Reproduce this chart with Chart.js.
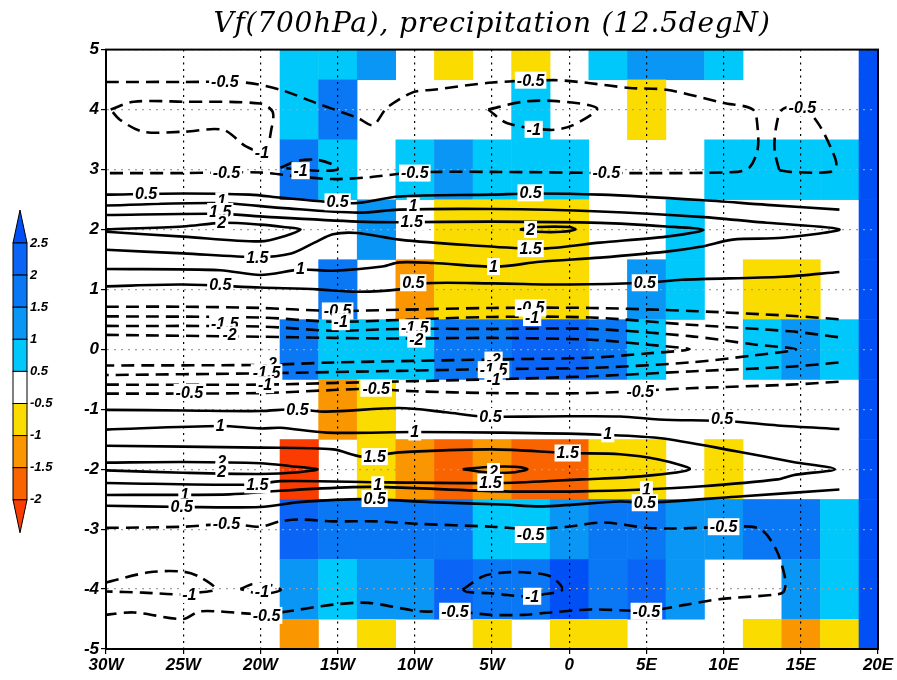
<!DOCTYPE html>
<html lang="en">
<head>
    <meta charset="UTF-8">
    <title>Vf(700hPa), precipitation (12.5degN)</title>
    <script src="https://cdn.jsdelivr.net/npm/chart.js"></script>
    <style>
        body { margin: 0; background: #fff; }
        canvas { display: block; }
    </style>
</head>
<body>
    <canvas id="vfChart" width="897" height="680"></canvas>

    <script>
        const chartTitle = "Vf(700hPa), precipitation (12.5degN)";

        // shaded field: one value per 2.5deg x 1 cell
        const lons = [-30, -27.5, -25, -22.5, -20, -17.5, -15, -12.5, -10, -7.5, -5, -2.5, 0, 2.5, 5, 7.5, 10, 12.5, 15, 17.5, 20];
        const lats = [5, 4, 3, 2, 1, 0, -1, -2, -3, -4, -5];
        const precip = [
            [0, 0, 0, 0, 0, 0.7, 0.7, 1.2, 0, -0.7, 0, -0.7, 0, 0.7, 1.2, 1.2, 0.7, 0, 0, 0, 2.7],
            [0, 0, 0, 0, 0, 0.7, 1.7, 0, 0, 0, 0, 0.7, 0, 0, -0.7, 0, 0, 0, 0, 0, 2.7],
            [0, 0, 0, 0, 0, 1.7, 0.7, 0, 0.7, 1.2, 0.7, 0.7, 0.7, 0, 0, 0, 0.7, 0.7, 0.7, 0.7, 2.7],
            [0, 0, 0, 0, 0, 0, 0, 1.2, 0, -0.7, -0.7, -0.7, -0.7, 0, 0, 0.7, 0, 0, 0, 0, 2.7],
            [0, 0, 0, 0, 0, 0, 1.7, 0, -1.2, -0.7, -0.7, -0.7, -0.7, 0, 1.2, 0.7, 0, -0.7, -0.7, 0, 2.7],
            [0, 0, 0, 0, 0, 1.7, 0.7, 0.7, 0.7, 1.7, 1.7, 2.2, 2.2, 1.7, 0.7, 0, 0, 0.7, 1.2, 0.7, 2.7],
            [0, 0, 0, 0, 0, 0, -1.2, -0.7, 0, 0, 0, 0, 0, 0, 0, 0, 0, 0, 0, 0, 2.7],
            [0, 0, 0, 0, 0, -2.2, 0, -0.7, -1.2, -1.7, -1.2, -1.7, -1.7, -0.7, -0.7, 0, -0.7, 0, 0, 0, 2.7],
            [0, 0, 0, 0, 0, 2.2, 1.7, 1.7, 1.7, 1.7, 0.7, 0.7, 1.2, 1.7, 1.7, 1.2, 1.2, 1.7, 1.7, 0.7, 2.7],
            [0, 0, 0, 0, 0, 1.2, 0.7, 1.2, 1.2, 2.2, 1.7, 1.7, 2.7, 1.7, 2.2, 1.2, 0, 0, 1.2, 0.7, 2.7],
            [0, 0, 0, 0, 0, -1.2, 0, -0.7, 0, 0, -0.7, 0, -0.7, -0.7, 0, 0, 0, -0.7, -1.2, -0.7, 2.7]
        ];
        const levels = [-2, -1.5, -1, -0.5, 0.5, 1, 1.5, 2, 2.5];
        const shadeColors = ["#fa3c00", "#fa6400", "#fa9600", "#fadc00", null, "#00c8fa", "#0a96f5", "#0a78f5", "#0a64f5", "#0050f5"];

        // contour lines of Vf: [level, [[lon, lat], ...]]
        const topLines = [
            [-0.5, [[-30, 4.46], [-25, 4.46], [-21, 4.45], [-18.7, 4.33], [-16.3, 4.1], [-13.7, 3.86], [-12.7, 3.74], [-11.8, 4.03], [-10.1, 4.29], [-8.8, 4.33], [-5, 4.45], [-1, 4.49], [1, 4.45], [3.9, 4.36], [6.3, 4.33], [10, 4.11], [11.9, 4.0], [12.2, 3.7], [12.2, 3.33], [11.7, 3.04], [10.9, 2.96], [3.7, 2.94], [-5, 2.96], [-10, 2.95], [-13, 2.87], [-15.3, 2.84], [-17.5, 2.88], [-20, 2.95], [-25, 2.94], [-30, 2.94]]],
            [-1, [[-29.7, 4.0], [-28.2, 4.13], [-25, 4.13], [-20, 4.1], [-19.2, 3.96], [-19.3, 3.66], [-19.7, 3.3], [-20.9, 3.38], [-22.4, 3.66], [-25, 3.63], [-27.6, 3.63], [-29.1, 3.83], [-29.7, 4.0]]],
            [-1, [[-18.7, 3.03], [-17.5, 3.15], [-16.3, 3.16], [-15.3, 3.08], [-15.0, 3.0], [-16.3, 2.98], [-18.7, 3.03]]],
            [-1, [[-5.25, 4.0], [-3.0, 4.13], [-0.8, 4.14], [1.8, 4.02], [0.25, 3.74], [-1.2, 3.66], [-4.0, 3.77], [-5.25, 4.0]]],
            [-0.5, [[13.6, 2.99], [13.3, 3.33], [13.4, 3.71], [13.8, 4.0], [15.1, 4.05], [16.2, 3.74], [17.1, 3.27], [17.3, 3.08], [16.9, 2.96], [14.3, 2.96], [13.6, 2.99]]]
        ];
        const upperRidge = [
            [0.5, [[-30, 2.58], [-25, 2.6], [-20.7, 2.58], [-18.7, 2.53], [-15.7, 2.46], [-13.7, 2.44], [-11, 2.55], [-5, 2.58], [-2.5, 2.6], [2, 2.58], [8.5, 2.49], [12.8, 2.41], [17.5, 2.33]]],
            [0.5, [[-30, 1.05], [-25, 1.08], [-20, 1.03], [-16.3, 1.0], [-13.7, 0.96], [-11, 1.0], [-9.5, 1.1], [-5, 1.1], [0, 1.08], [5, 1.11], [7.3, 1.16], [13.8, 1.21], [17.5, 1.29]]],
            [1, [[-30, 2.4], [-22.7, 2.44], [-18.7, 2.36], [-13.7, 2.28], [-11, 2.33], [-5, 2.34], [2, 2.3], [8.5, 2.21], [12.8, 2.11], [17.5, 2.0], [13.8, 1.86], [10.6, 1.83], [8.5, 1.71], [6.3, 1.63], [2, 1.53], [-1.9, 1.46], [-4.7, 1.38], [-8.8, 1.44], [-11, 1.45], [-12.1, 1.38], [-15.3, 1.31], [-17.4, 1.33], [-20, 1.24], [-22.6, 1.32], [-30, 1.34]]],
            [1.5, [[-30, 2.24], [-22.6, 2.26], [-19.6, 2.21], [-13.7, 2.13], [-11, 2.12], [-5, 2.13], [2, 2.11], [6.3, 2.05], [8.7, 1.99], [6.3, 1.88], [2, 1.78], [-1.9, 1.68], [-6.6, 1.74], [-11, 1.83], [-13.7, 1.94], [-15.3, 1.92], [-16.5, 1.78], [-18, 1.6], [-20.2, 1.54], [-25, 1.6], [-30, 1.66]]],
            [2, [[-30, 2.0], [-25, 2.05], [-22.5, 2.11], [-20, 2.08], [-18.5, 2.04], [-17.4, 2.0], [-18.3, 1.9], [-20, 1.8], [-25, 1.88], [-30, 1.96]]],
            [2, [[-3.2, 2.0], [-2, 2.04], [0, 2.04], [0.4, 2.0], [-0.5, 1.96], [-2, 1.96], [-3.2, 2.0]]]
        ];
        const troughLines = [
            [-0.5, [[-30, 0.71], [-25, 0.71], [-20, 0.69], [-15.3, 0.64], [-11, 0.66], [-5, 0.69], [1.4, 0.69], [7.8, 0.64], [14.3, 0.56], [17.5, 0.5]]],
            [-1, [[-30, 0.55], [-20, 0.53], [-15.3, 0.46], [-11, 0.49], [-5, 0.54], [1.4, 0.53], [7.8, 0.41], [14.3, 0.3], [17.5, 0.2]]],
            [-1.5, [[-30, 0.39], [-20, 0.38], [-15.3, 0.31], [-11, 0.34], [-5, 0.34], [1.4, 0.34], [7.8, 0.22], [12, 0.08], [14.7, 0.0], [12, -0.1], [7.8, -0.22], [1.4, -0.31], [-5, -0.33], [-11, -0.36], [-20, -0.4], [-30, -0.43]]],
            [-2, [[-30, 0.24], [-20, 0.21], [-15.3, 0.19], [-11, 0.18], [-5, 0.19], [1.4, 0.16], [5, 0.08], [7.8, 0.0], [5, -0.07], [1.4, -0.14], [-5, -0.17], [-15.3, -0.22], [-20, -0.26], [-30, -0.27]]],
            [-1, [[-30, -0.59], [-20, -0.59], [-15, -0.56], [-5, -0.5], [1.4, -0.45], [7.8, -0.37], [14.3, -0.29], [17.5, -0.22]]],
            [-0.5, [[-30, -0.74], [-20, -0.73], [-15.3, -0.68], [-13, -0.66], [-10, -0.7], [-5, -0.73], [1.4, -0.73], [7.8, -0.65], [14.3, -0.59], [17.5, -0.54]]]
        ];
        const lowerRidge = [
            [0.5, [[-30, -1.01], [-25, -1.02], [-20, -1.03], [-17.8, -1.0], [-15.7, -1.04], [-11, -0.98], [-8, -1.05], [-5.6, -1.12], [-1.7, -1.12], [3.3, -1.12], [5.8, -1.17], [10.3, -1.2], [13.5, -1.27], [17.5, -1.33]]],
            [1, [[-30, -1.34], [-22.6, -1.28], [-20, -1.32], [-18.7, -1.31], [-15.7, -1.39], [-10, -1.38], [-4.5, -1.39], [1.5, -1.42], [5.8, -1.48], [10.8, -1.7], [14.5, -1.88], [17.2, -2.0], [14.5, -2.1], [13.5, -2.17], [8.4, -2.29], [4.8, -2.34], [0.8, -2.37], [-4.3, -2.37], [-11.8, -2.3], [-14, -2.3], [-18.7, -2.36], [-22, -2.42], [-30, -2.43]]],
            [1.5, [[-30, -1.61], [-20, -1.64], [-15.3, -1.67], [-13.4, -1.79], [-11, -1.72], [-5, -1.67], [0, -1.73], [3.3, -1.75], [5.8, -1.84], [7.8, -2.0], [4.6, -2.12], [0.8, -2.17], [-4.3, -2.23], [-11.8, -2.22], [-18.7, -2.2], [-20.4, -2.26], [-30, -2.23]]],
            [2, [[-30, -1.89], [-25, -1.88], [-20, -1.9], [-18, -1.95], [-16.3, -2.0], [-17.5, -2.05], [-20, -2.08], [-25, -2.06], [-30, -2.02]]],
            [2, [[-6.9, -2.0], [-5, -1.96], [-3.5, -1.96], [-2.7, -2.0], [-3.5, -2.05], [-5, -2.06], [-6.9, -2.0]]],
            [0.5, [[-30, -2.61], [-25, -2.63], [-20, -2.63], [-17.5, -2.55], [-13.3, -2.5], [-9, -2.55], [-4.3, -2.59], [-1.7, -2.62], [3.3, -2.54], [5, -2.56], [10.8, -2.46], [17.5, -2.34]]]
        ];
        const bottomLines = [
            [-0.5, [[-30, -2.98], [-25, -2.96], [-22, -2.91], [-20, -2.96], [-18.7, -2.87], [-17.4, -2.84], [-15.3, -2.87], [-12.5, -2.87], [-9.9, -2.91], [-5, -2.96], [-2.5, -3.0], [-0.1, -2.96], [2.2, -2.89], [5.1, -2.98], [6.8, -2.99], [9.8, -2.97], [12.3, -2.99], [13.4, -3.34], [14.0, -3.84], [13.9, -4.04], [13.4, -4.09], [9.7, -4.17], [7.6, -4.26], [5.1, -4.36], [1.4, -4.34], [-1.2, -4.39], [-3, -4.43], [-5.1, -4.43], [-7.5, -4.37], [-9.7, -4.37], [-13, -4.23], [-15.3, -4.26], [-18.7, -4.39], [-20, -4.42], [-23.9, -4.37], [-25, -4.5], [-28.2, -4.39], [-30, -4.43]]],
            [-1, [[-30, -3.89], [-27.2, -3.72], [-25, -3.71], [-23.9, -3.8], [-22.9, -4.0], [-24, -4.06], [-25, -4.09], [-27.6, -4.06], [-30, -4.04]]],
            [-1, [[-21.3, -4.0], [-20.5, -3.92], [-19.2, -3.94], [-18.7, -4.02], [-20, -4.08], [-21.3, -4.0]]],
            [-1, [[-6.9, -4.01], [-5.6, -3.79], [-4.5, -3.73], [-3, -3.72], [-1.2, -3.79], [-0.45, -4.01], [-1.7, -4.09], [-3, -4.12], [-4, -4.1], [-5.1, -4.07], [-6.6, -4.05], [-6.9, -4.01]]]
        ];

        // contour labels: [lon, lat, text]
        const topLabels = [
            [-22.3, 4.46, "-0.5"], [-19.9, 3.28, "-1"], [-17.4, 2.98, "-1"], [-22.2, 2.94, "-0.5"], [-10, 2.94, "-0.5"],
            [-2.5, 4.49, "-0.5"], [-2.3, 3.67, "-1"], [2.4, 2.94, "-0.5"], [15.1, 4.03, "-0.5"]
        ];
        const upperRidgeLabels = [
            [-27.4, 2.59, "0.5"], [-15, 2.46, "0.5"], [-2.5, 2.61, "0.5"], [-22.5, 2.48, "1"], [-10.1, 2.39, "1"],
            [-22.6, 2.3, "1.5"], [-10.2, 2.13, "1.5"], [-22.5, 2.11, "2"], [-2.5, 2.0, "2"], [-2.5, 1.68, "1.5"],
            [-20.2, 1.53, "1.5"], [-17.4, 1.34, "1"], [-4.9, 1.38, "1"], [-22.6, 1.08, "0.5"], [-10.1, 1.11, "0.5"], [4.9, 1.11, "0.5"]
        ];
        const troughLabels = [
            [-15, 0.64, "-0.5"], [-14.8, 0.46, "-1"], [-22.3, 0.43, "-1.5"], [-22, 0.24, "-2"], [-10, 0.36, "-1.5"],
            [-9.9, 0.17, "-2"], [-2.5, 0.69, "-0.5"], [-2.4, 0.53, "-1"], [-19.4, -0.24, "-2"], [-19.6, -0.39, "-1.5"],
            [-19.7, -0.59, "-1"], [-24.6, -0.72, "-0.5"], [-12.5, -0.65, "-0.5"], [-4.9, -0.18, "-2"], [-4.9, -0.34, "-1.5"],
            [-4.9, -0.51, "-1"], [4.6, -0.7, "-0.5"]
        ];
        const lowerRidgeLabels = [
            [-17.6, -1.0, "0.5"], [-22.6, -1.28, "1"], [-10, -1.38, "1"], [-5.1, -1.12, "0.5"], [2.5, -1.41, "1"],
            [9.9, -1.16, "0.5"], [-12.6, -1.79, "1.5"], [-0.1, -1.73, "1.5"], [-22.5, -1.88, "2"], [-22.5, -2.04, "2"],
            [-4.9, -2.04, "2"], [-20.2, -2.26, "1.5"], [-5.1, -2.22, "1.5"], [-24.9, -2.43, "1"], [-25.1, -2.63, "0.5"],
            [-12.4, -2.26, "1"], [-12.6, -2.49, "0.5"], [5, -2.34, "1"], [4.9, -2.56, "0.5"]
        ];
        const bottomLabels = [
            [-22.2, -2.91, "-0.5"], [-2.5, -3.09, "-0.5"], [10, -2.96, "-0.5"], [5, -4.37, "-0.5"], [-7.4, -4.37, "-0.5"],
            [-19.6, -4.44, "-0.5"], [-24.6, -4.09, "-1"], [-19.9, -4.04, "-1"], [-2.4, -4.12, "-1"]
        ];

        const allLines = [...topLines, ...upperRidge, ...troughLines, ...lowerRidge, ...bottomLines];
        const allLabels = [...topLabels, ...upperRidgeLabels, ...troughLabels, ...lowerRidgeLabels, ...bottomLabels];

        const tickFont = { family: "Liberation Sans", size: 17, style: "italic", weight: "bold" };
        const labelFont = 'italic bold 16px "Liberation Sans"';

        function shadeFor(v) {
            let i = 0;
            while (i < levels.length && v > levels[i]) i++;
            return shadeColors[i];
        }

        // colour cells, drawn before the grid so the dotted lines sit on top
        const cellPlugin = {
            id: "cells",
            beforeDraw(chart) {
                const { ctx, chartArea: a, scales: { x, y } } = chart;
                ctx.save();
                ctx.beginPath();
                ctx.rect(a.left, a.top, a.right - a.left, a.bottom - a.top);
                ctx.clip();
                lats.forEach((lat, r) => {
                    lons.forEach((lon, c) => {
                        const col = shadeFor(precip[r][c]);
                        if (!col) return;
                        const x0 = x.getPixelForValue(lon - 1.25), x1 = x.getPixelForValue(lon + 1.25);
                        const y0 = y.getPixelForValue(lat + 0.5), y1 = y.getPixelForValue(lat - 0.5);
                        ctx.fillStyle = col;
                        ctx.fillRect(x0, y0, x1 - x0 + 0.5, y1 - y0 + 0.5);
                    });
                });
                ctx.restore();
            }
        };

        const labelPlugin = {
            id: "contourLabels",
            afterDatasetsDraw(chart) {
                const { ctx, scales: { x, y } } = chart;
                ctx.save();
                ctx.font = labelFont;
                ctx.textAlign = "center";
                ctx.textBaseline = "middle";
                allLabels.forEach(([lon, lat, txt]) => {
                    const px = x.getPixelForValue(lon), py = y.getPixelForValue(lat);
                    const w = ctx.measureText(txt).width + 4;
                    ctx.fillStyle = "#fff";
                    ctx.fillRect(px - w / 2, py - 8.5, w, 17);
                    ctx.fillStyle = "#000";
                    ctx.fillText(txt, px, py + 1);
                });
                ctx.restore();
            }
        };

        // title, frame on top/right and the colour bar on the left
        const framePlugin = {
            id: "frame",
            afterDraw(chart) {
                const { ctx, chartArea: a } = chart;
                ctx.save();
                ctx.fillStyle = "#000";
                ctx.font = 'italic 28px "DejaVu Serif"';
                ctx.textAlign = "center";
                ctx.textBaseline = "alphabetic";
                if ("letterSpacing" in ctx) ctx.letterSpacing = "0.8px";
                ctx.fillText(chartTitle, (a.left + a.right) / 2, 32);
                if ("letterSpacing" in ctx) ctx.letterSpacing = "0px";

                ctx.strokeStyle = "#000";
                ctx.lineWidth = 2;
                ctx.strokeRect(a.left, a.top, a.right - a.left, a.bottom - a.top);

                const bx = 13, bw = 14, top = 243, bh = 32.1;
                const n = levels.length - 1;
                ctx.lineWidth = 1;
                ctx.fillStyle = shadeColors[shadeColors.length - 1];
                ctx.beginPath();
                ctx.moveTo(bx, top); ctx.lineTo(bx + bw / 2, top - 33); ctx.lineTo(bx + bw, top); ctx.closePath();
                ctx.fill(); ctx.stroke();
                for (let i = 0; i < n; i++) {
                    const col = shadeColors[levels.length - 1 - i] || "#fff";
                    const yy = top + i * bh;
                    ctx.fillStyle = col;
                    ctx.fillRect(bx, yy, bw, bh);
                    ctx.strokeRect(bx, yy, bw, bh);
                }
                const bot = top + n * bh;
                ctx.fillStyle = shadeColors[0];
                ctx.beginPath();
                ctx.moveTo(bx, bot); ctx.lineTo(bx + bw / 2, bot + 33); ctx.lineTo(bx + bw, bot); ctx.closePath();
                ctx.fill(); ctx.stroke();

                ctx.fillStyle = "#000";
                ctx.font = 'italic bold 13px "Liberation Sans"';
                ctx.textAlign = "left";
                ctx.textBaseline = "middle";
                for (let i = 0; i <= n; i++) {
                    ctx.fillText(String(levels[levels.length - 1 - i]), bx + bw + 3, top + i * bh);
                }
                ctx.restore();
            }
        };

        const datasets = allLines.map(([lev, pts]) => ({
            data: pts.map(([lon, lat]) => ({ x: lon, y: lat })),
            showLine: true,
            pointRadius: 0,
            borderColor: "#000",
            borderWidth: 2.6,
            borderDash: lev < 0 ? [13, 7] : [],
            tension: 0.3,
            fill: false
        }));

        function lonLabel(v) {
            if (v < 0) return (-v) + "W";
            if (v > 0) return v + "E";
            return "0";
        }

        new Chart(document.getElementById("vfChart"), {
            type: "scatter",
            data: { datasets: datasets },
            options: {
                responsive: false,
                animation: false,
                devicePixelRatio: 1,
                events: [],
                layout: { padding: { top: 49.6, right: 19, bottom: 0, left: 0 } },
                plugins: {
                    legend: { display: false },
                    tooltip: { enabled: false },
                    title: { display: false }
                },
                scales: {
                    x: {
                        type: "linear",
                        min: -30,
                        max: 20,
                        ticks: { stepSize: 5, autoSkip: false, maxRotation: 0, color: "#000", font: tickFont, padding: 1, callback: lonLabel },
                        grid: { color: "#000", lineWidth: 1.2, tickColor: "#000", tickBorderDash: [], tickLength: 5 },
                        border: { color: "#000", width: 2, dash: [2, 4.5] },
                        afterFit(s) { s.height = 31; }
                    },
                    y: {
                        type: "linear",
                        min: -5,
                        max: 5,
                        ticks: { stepSize: 1, autoSkip: false, color: "#000", font: tickFont, padding: 2 },
                        grid: { color: "#a0a0a0", lineWidth: 1.2, tickColor: "#000", tickBorderDash: [], tickLength: 5 },
                        border: { color: "#000", width: 2, dash: [2, 5] },
                        afterFit(s) { s.width = 106; }
                    }
                }
            },
            plugins: [cellPlugin, labelPlugin, framePlugin]
        });
    </script>
</body>
</html>
